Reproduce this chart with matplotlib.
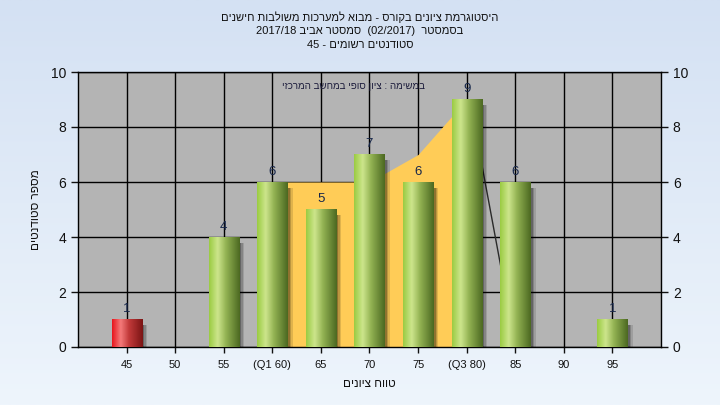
"""Grade histogram (Hebrew course report) redrawn with matplotlib."""

import re

import matplotlib
matplotlib.use("Agg")
import matplotlib.pyplot as plt
import numpy as np
from matplotlib.colors import LinearSegmentedColormap
from matplotlib.patches import Rectangle

plt.rcParams["font.family"] = ["Liberation Sans", "DejaVu Sans"]

# ---- data -------------------------------------------------------------
categories = ["45", "50", "55", "(Q1 60)", "65", "70", "75", "(Q3 80)", "85", "90", "95"]
counts = [1, 0, 4, 6, 5, 7, 6, 9, 6, 0, 1]
fail_mask = [True, False, False, False, False, False, False, False, False, False, False]

# yellow band between Q1 and Q3 (category index -> height)
band_idx = [3, 4, 5, 6, 7]
band_val = [6, 6, 6, 7, 9]

# thin trend segment after Q3 (mostly hidden behind the bars)
trend_idx = [7.2, 8.0]
trend_val = [7.7, 0.1]

title_lines = [
    "היסטוגרמת ציונים בקורס - מבוא למערכות משולבות חישנים",
    "בסמסטר  (02/2017)  סמסטר אביב 2017/18",
    "סטודנטים רשומים - 45",
]
legend_text = "במשימה : ציון סופי במחשב המרכזי"
x_label = "טווח ציונים"
y_label = "מספר סטודנטים"

# ---- style ------------------------------------------------------------
PLOT_BG = "#b4b4b4"
BAND = "#ffcc57"
INK = "#111111"
LABEL_INK = "#16264a"
BAR_W = 0.62

GREEN = LinearSegmentedColormap.from_list(
    "grn", [(0.0, "#9acb42"), (0.28, "#cde58c"), (0.55, "#93b353"), (1.0, "#4b6821")])
RED = LinearSegmentedColormap.from_list(
    "red", [(0.0, "#e8141c"), (0.28, "#f47a7a"), (0.55, "#c23a3a"), (1.0, "#7a1414")])


def vis(s: str) -> str:
    """Logical RTL string -> left-to-right visual order (numbers kept)."""
    r = s[::-1]
    r = re.sub(r"[0-9/]+", lambda m: m.group(0)[::-1], r)
    return r.translate(str.maketrans("()", ")("))


fig = plt.figure(figsize=(7.2, 4.05), dpi=100)

# background gradient
bg = fig.add_axes([0, 0, 1, 1], zorder=-10)
grad = np.linspace(0, 1, 256).reshape(-1, 1)
bg.imshow(grad, aspect="auto", extent=(0, 1, 0, 1),
          cmap=LinearSegmentedColormap.from_list("bg", ["#eef5fc", "#d4e1f3"]),
          origin="lower")
bg.axis("off")

ax = fig.add_axes([78 / 720, 1 - 347 / 405, 583 / 720, 275 / 405])
ax.set_facecolor(PLOT_BG)
x = np.arange(len(categories))

ax.set_xlim(-1, len(categories))
ax.set_ylim(0, 10)
ax.set_xticks(x)
ax.set_xticklabels(categories, fontsize=8, color=INK)
ax.set_yticks(range(0, 11, 2))
ax.tick_params(axis="y", labelsize=10, colors=INK, length=5, width=1,
               left=True, right=True, labelleft=True, labelright=True, direction="out")
ax.tick_params(axis="x", length=4, width=1, direction="out", pad=5, colors=INK)
ax.grid(True, color="black", linewidth=1.0, zorder=0)
ax.set_axisbelow(True)
for sp in ax.spines.values():
    sp.set_color("black")
    sp.set_linewidth(1.0)

# band between quartiles
ax.fill_between(band_idx, 0, band_val, color=BAND, linewidth=0, zorder=1)
ax.plot(trend_idx, trend_val, color="#2a2a2a", linewidth=1.0, zorder=1)

# bars with shading and soft shadow
gimg = np.linspace(0, 1, 128).reshape(1, -1)
for xi, v, bad in zip(x, counts, fail_mask):
    if v <= 0:
        continue
    left = xi - BAR_W / 2
    for k, a in enumerate([0.12, 0.16, 0.24]):
        off = 0.05 + 0.03 * (2 - k)
        ax.add_patch(Rectangle((left + off, -0.15), BAR_W, v - 0.05,
                               facecolor="black", alpha=a, linewidth=0, zorder=2))
    ax.imshow(gimg, cmap=RED if bad else GREEN, aspect="auto",
              extent=(left, left + BAR_W, 0, v), zorder=3, interpolation="bilinear")
    ax.annotate(str(v), (xi, v), xytext=(0, 3), textcoords="offset points",
                ha="center", va="bottom", fontsize=9.5, color=LABEL_INK, zorder=4)

ax.set_xlim(-1, len(categories))
ax.set_ylim(0, 10)

ax.text(0.472, 0.949, vis(legend_text), transform=ax.transAxes, ha="center",
        va="center", fontsize=7, color="#1c1c3c", zorder=5)

ax.set_xlabel(vis(x_label), fontsize=8.5, color=INK, labelpad=6)
ax.set_ylabel(vis(y_label), fontsize=8.5, color=INK, labelpad=6)

for i, line in enumerate(title_lines):
    fig.text(0.5, 1 - (17 + 14 * i) / 405, vis(line), ha="center", va="center",
             fontsize=8, color=INK)

fig.savefig("out.png", dpi=100)
